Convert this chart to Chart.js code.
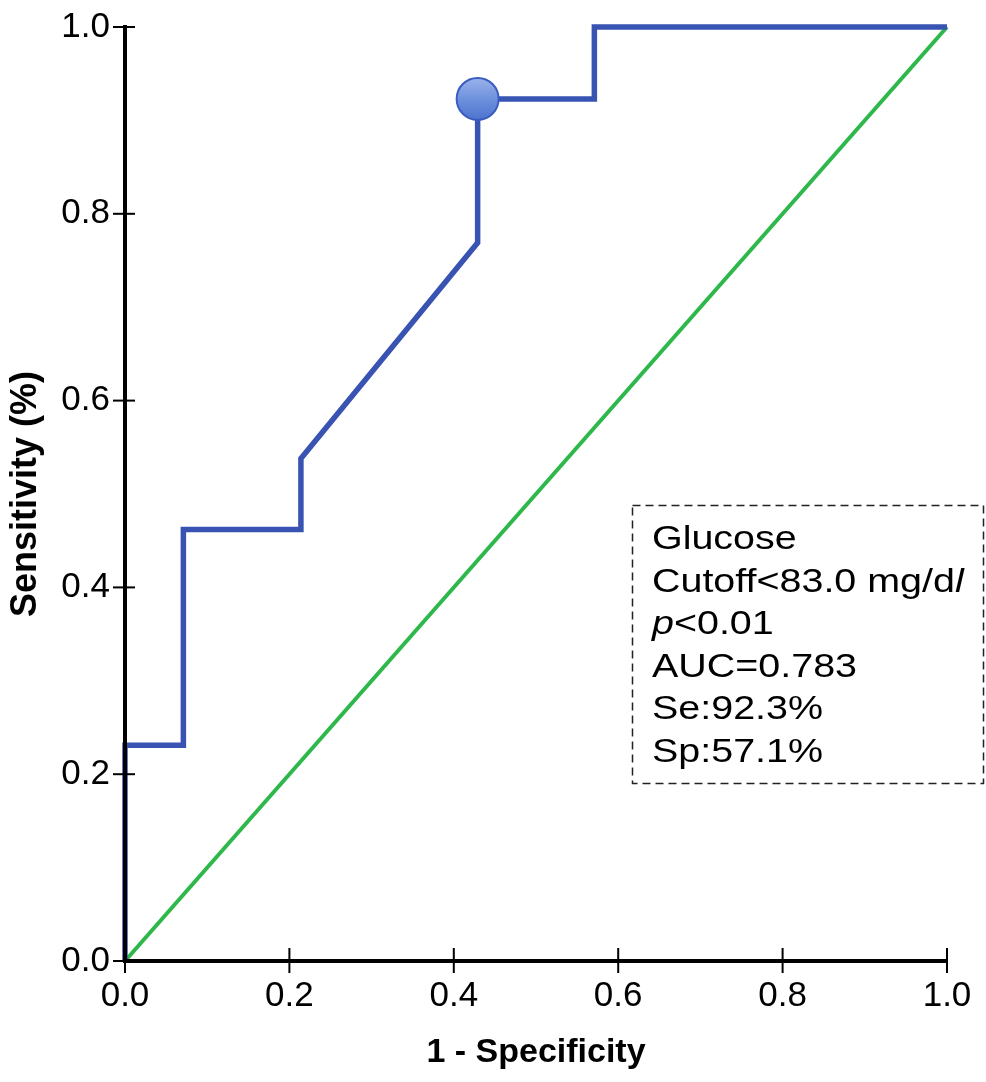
<!DOCTYPE html>
<html>
<head>
<meta charset="utf-8">
<script src="https://cdn.jsdelivr.net/npm/chart.js@4.4.1/dist/chart.umd.min.js"></script>
<style>
  html, body { margin: 0; padding: 0; background: #ffffff; }
  #wrap { position: relative; width: 986px; height: 1082px; }
</style>
</head>
<body>
<div id="wrap"><canvas id="c"></canvas></div>
<script>
// ---- data ----
const rocFpr = [0, 0, 0.071, 0.071, 0.214, 0.214, 0.429, 0.429, 0.571, 0.571, 1.0];
const rocTpr = [0, 0.231, 0.231, 0.462, 0.462, 0.538, 0.769, 0.923, 0.923, 1.0, 1.0];
const refX = [0, 1];
const refY = [0, 1];
const cutoffX = [0.429];
const cutoffY = [0.923];
const tickValues = [0, 0.2, 0.4, 0.6, 0.8, 1.0];
const xTitle = '1 - Specificity';
const yTitle = 'Sensitivity (%)';
const noteLines = [
  [{t: 'Glucose'}],
  [{t: 'Cutoff<83.0 mg/d'}, {t: 'l', i: true}],
  [{t: 'p', i: true}, {t: '<0.01'}],
  [{t: 'AUC=0.783'}],
  [{t: 'Se:92.3%'}],
  [{t: 'Sp:57.1%'}]
];

const toPts = (xs, ys) => xs.map((x, i) => ({x: x, y: ys[i]}));

const BASE_FONT = "'Liberation Sans', Arial, sans-serif";

const tickMarks = {
  id: 'tickMarks',
  afterDraw(chart) {
    const ctx = chart.ctx;
    const xs = chart.scales.x, ys = chart.scales.y;
    ctx.save();
    ctx.strokeStyle = '#000';
    ctx.lineWidth = 2;
    const yb = ys.getPixelForValue(0);
    const xl = xs.getPixelForValue(0);
    tickValues.forEach(v => {
      const px = xs.getPixelForValue(v);
      ctx.beginPath();
      ctx.moveTo(px, yb - 13);
      ctx.lineTo(px, yb + 12);
      ctx.stroke();
      const py = ys.getPixelForValue(v);
      ctx.beginPath();
      ctx.moveTo(xl - 12, py);
      ctx.lineTo(xl + 10, py);
      ctx.stroke();
    });
    ctx.restore();
  }
};

const noteBox = {
  id: 'noteBox',
  afterDraw(chart) {
    const ctx = chart.ctx;
    ctx.save();
    ctx.strokeStyle = '#222';
    ctx.lineWidth = 1.5;
    ctx.setLineDash([8, 5]);
    ctx.strokeRect(632.5, 505.5, 351, 278);
    ctx.setLineDash([]);
    ctx.fillStyle = '#000';
    ctx.textBaseline = 'alphabetic';
    ctx.textAlign = 'left';
    const sx = 1.16;
    noteLines.forEach((segs, li) => {
      const base = 549 + li * 42.6;
      ctx.save();
      ctx.translate(652, base);
      ctx.scale(sx, 1);
      let cx = 0;
      segs.forEach(s => {
        ctx.font = (s.i ? 'italic ' : '') + '34px ' + BASE_FONT;
        ctx.fillText(s.t, cx, 0);
        cx += ctx.measureText(s.t).width;
      });
      ctx.restore();
    });
    ctx.restore();
  }
};

const ctxEl = document.getElementById('c');
new Chart(ctxEl, {
  type: 'scatter',
  data: {
    datasets: [
      {
        label: 'Cutoff',
        data: toPts(cutoffX, cutoffY),
        pointRadius: 21,
        pointHoverRadius: 21,
        borderColor: '#3a5cc0',
        borderWidth: 2,
        backgroundColor: (context) => {
          const chart = context.chart;
          const ys = chart.scales.y;
          if (!ys || context.raw === undefined) return '#5b80d6';
          const py = ys.getPixelForValue(context.raw.y);
          if (!isFinite(py)) return '#5b80d6';
          const g = chart.ctx.createLinearGradient(0, py - 21, 0, py + 21);
          g.addColorStop(0, '#9ab3ea');
          g.addColorStop(0.55, '#6a8edc');
          g.addColorStop(1, '#4f73cd');
          return g;
        },
        showLine: false,
        clip: false
      },
      {
        label: 'ROC',
        data: toPts(rocFpr, rocTpr),
        showLine: true,
        borderColor: '#3953b2',
        borderWidth: 5.5,
        pointRadius: 0,
        tension: 0,
        fill: false,
        borderJoinStyle: 'miter',
        clip: false
      },
      {
        label: 'Reference',
        data: toPts(refX, refY),
        showLine: true,
        borderColor: '#2eb84b',
        borderWidth: 4,
        pointRadius: 0,
        fill: false,
        clip: false
      }
    ]
  },
  options: {
    responsive: true,
    maintainAspectRatio: false,
    animation: false,
    events: [],
    layout: { padding: { top: 27, right: 39, left: 0, bottom: 0 } },
    plugins: {
      legend: { display: false },
      tooltip: { enabled: false }
    },
    scales: {
      x: {
        type: 'linear',
        min: 0, max: 1,
        afterFit(scale) { scale.height = 121; scale.paddingLeft = 0; scale.paddingRight = 0; },
        grid: { display: true, drawOnChartArea: false, drawTicks: false },
        border: { display: true, color: '#000', width: 4, z: 1 },
        ticks: {
          stepSize: 0.2,
          padding: 14,
          color: '#000',
          font: { family: BASE_FONT, size: 35 },
          callback: (v) => Number(v).toFixed(1)
        },
        title: {
          display: true,
          text: xTitle,
          color: '#000',
          font: { family: BASE_FONT, size: 34, weight: 'bold' },
          padding: { top: 0, bottom: 9 }
        }
      },
      y: {
        type: 'linear',
        min: 0, max: 1,
        afterFit(scale) { scale.width = 125; scale.paddingTop = 0; scale.paddingBottom = 0; },
        grid: { display: true, drawOnChartArea: false, drawTicks: false },
        border: { display: true, color: '#000', width: 4, z: 1 },
        ticks: {
          stepSize: 0.2,
          padding: 15,
          color: '#000',
          font: { family: BASE_FONT, size: 35 },
          callback: (v) => Number(v).toFixed(1)
        },
        title: {
          display: true,
          text: yTitle,
          color: '#000',
          font: { family: BASE_FONT, size: 36, weight: 'bold' },
          padding: { top: 4, bottom: 0 }
        }
      }
    }
  },
  plugins: [tickMarks, noteBox]
});
</script>
</body>
</html>
